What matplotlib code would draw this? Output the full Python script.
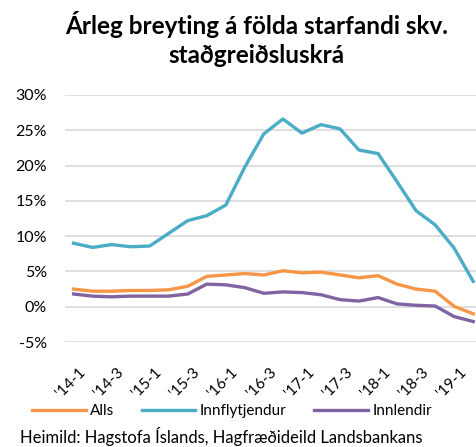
import matplotlib.pyplot as plt
import matplotlib.transforms as mtransforms
import numpy as np

plt.rcParams['font.family'] = ['Lato', 'DejaVu Sans']

quarters = ["'14-1", "'14-2", "'14-3", "'14-4", "'15-1", "'15-2", "'15-3", "'15-4",
            "'16-1", "'16-2", "'16-3", "'16-4", "'17-1", "'17-2", "'17-3", "'17-4",
            "'18-1", "'18-2", "'18-3", "'18-4", "'19-1", "'19-2"]

alls = [2.5, 2.2, 2.2, 2.3, 2.3, 2.4, 2.9, 4.3, 4.5, 4.7, 4.5, 5.1,
        4.8, 4.9, 4.5, 4.1, 4.4, 3.2, 2.5, 2.2, 0.05, -1.0]
innflytjendur = [9.0, 8.4, 8.8, 8.5, 8.6, 10.4, 12.2, 12.9, 14.4, 19.8, 24.5, 26.6,
                 24.6, 25.8, 25.2, 22.2, 21.7, 17.7, 13.6, 11.6, 8.3, 3.6]
innlendir = [1.8, 1.5, 1.4, 1.5, 1.5, 1.5, 1.8, 3.2, 3.1, 2.7, 1.9, 2.1,
             2.0, 1.7, 1.0, 0.8, 1.3, 0.4, 0.2, 0.1, -1.4, -2.1]

fig = plt.figure(figsize=(4.77, 4.47), dpi=100)
ax = fig.add_axes([65 / 477, 1 - 342 / 447, 412 / 477, 247 / 447])

x = np.arange(len(quarters))
ax.plot(x, alls, color="#F79646", lw=2.4, label="Alls")
ax.plot(x, innflytjendur, color="#4BACC6", lw=2.4, label="Innflytjendur")
ax.plot(x, innlendir, color="#8064A2", lw=2.4, label="Innlendir")

ax.set_xlim(-0.45, 21.2)
ax.set_ylim(-5, 30)
yt = np.arange(-5, 31, 5)
ax.set_yticks(yt)
ax.set_yticklabels([f"{v}%" for v in yt], fontsize=11.5)
ax.tick_params(axis="y", length=0, pad=13)
ax.set_xticks(x[::2])
ax.set_xticklabels(quarters[::2], rotation=45, ha="right", rotation_mode="anchor", fontsize=11)
ax.tick_params(axis="x", length=0, pad=17)
shift = mtransforms.ScaledTranslation(5 / 100, 0, fig.dpi_scale_trans)
for lab in ax.get_xticklabels():
    lab.set_transform(lab.get_transform() + shift)
ax.grid(axis="y", color="#D9D9D9", lw=1.2)
ax.set_axisbelow(True)
for s in ax.spines.values():
    s.set_visible(False)

fig.text(0.537, 1 - 39 / 447, "Árleg breyting á földa starfandi skv.\nstaðgreiðsluskrá",
         ha="center", va="center", fontsize=17.5, fontweight="bold", linespacing=1.3)

fig.legend(loc="center", bbox_to_anchor=(232 / 477, 1 - 411 / 447), ncol=3, frameon=False,
           fontsize=11, handlelength=3.5, columnspacing=1.8, handletextpad=0.3)
fig.text(20 / 477, 1 - 437 / 447, "Heimild: Hagstofa Íslands, Hagfræðideild Landsbankans",
         ha="left", va="center", fontsize=12)

fig.savefig("out.png", dpi=100)
